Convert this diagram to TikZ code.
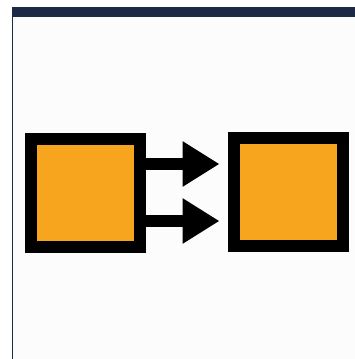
\documentclass[tikz,border=0pt]{standalone}
\usepackage{xcolor}
\usepackage{tikz}
\usetikzlibrary{arrows.meta, positioning}

\definecolor{boxorange}{HTML}{F7A51E}
\definecolor{barnavy}{HTML}{1C2A45}
\definecolor{panelbg}{HTML}{FCFCFC}

\begin{document}
\begin{tikzpicture}[
    x=1pt, y=-1pt,
    block/.style={rectangle, draw=black, fill=boxorange, line width=12pt, minimum width=109pt, minimum height=108pt, inner sep=0pt},
    arrow/.style={-{Triangle[length=37pt, width=43pt]}, line width=12pt, shorten >=8pt}
]
\useasboundingbox (0,0) rectangle (355,359);

% Panel
\fill[white] (0,0) rectangle (355,359);
\fill[panelbg] (12,17) rectangle (355,359);
\fill[barnavy] (12,7) rectangle (355,17);
\draw[barnavy, line width=1.5pt] (12.5,17) -- (12.5,359);

% Blocks
\node[block] (src) at (85.5,193) {};
\node[block] (dst) at (288,191.5) {};

% Arrows
\draw[arrow] ([yshift=29pt]src.east) -- ([yshift=29pt]src.east -| dst.west);
\draw[arrow] ([yshift=-28pt]src.east) -- ([yshift=-28pt]src.east -| dst.west);

\end{tikzpicture}
\end{document}
